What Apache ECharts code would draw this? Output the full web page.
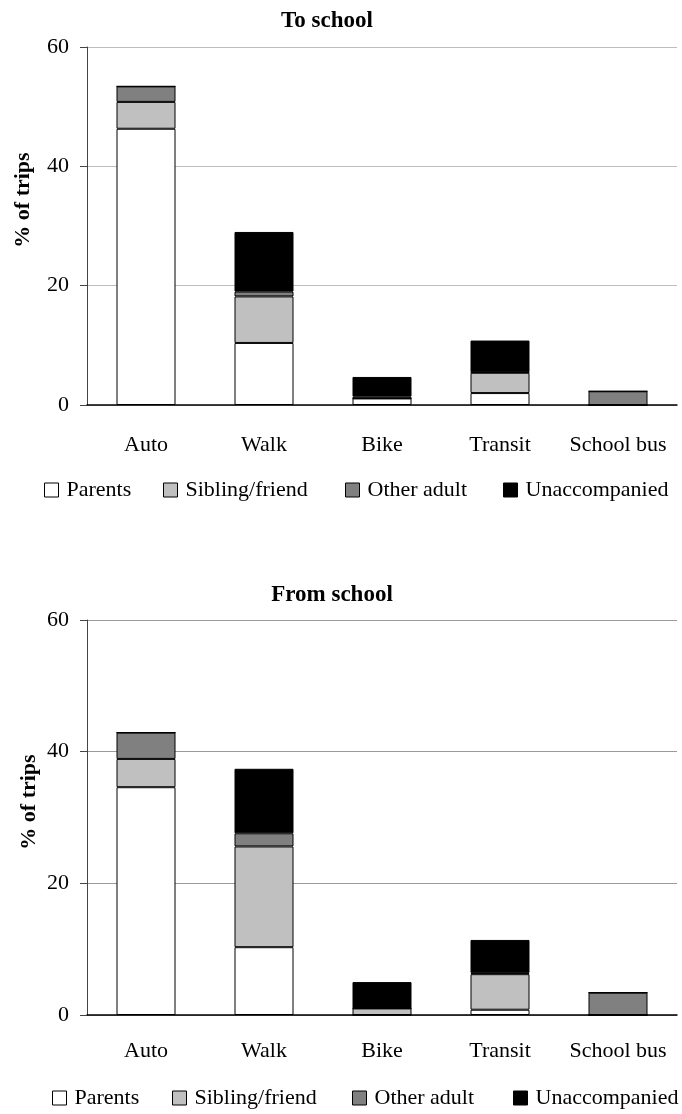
<!DOCTYPE html>
<html>
<head>
<meta charset="utf-8">
<script src="https://cdn.jsdelivr.net/npm/echarts@6/dist/echarts.min.js"></script>
<style>
html,body{margin:0;padding:0;background:#fff;}
#c{width:682px;height:1114px;}
</style>
</head>
<body>
<div id="c"></div>
<script>
// ---- data ----
var categories = ['Auto', 'Walk', 'Bike', 'Transit', 'School bus'];
var seriesNames = ['Parents', 'Sibling/friend', 'Other adult', 'Unaccompanied'];
var yTicks = [0, 20, 40, 60];

// To school (% of trips)
var toParents       = [46.3, 10.4, 1.1, 2.0, 0];
var toSibling       = [4.5,  7.8,  0,   3.4, 0];
var toOtherAdult    = [2.6,  0.8,  0.3, 0.1, 2.3];
var toUnaccompanied = [0,    10.0, 3.3, 5.3, 0];

// From school (% of trips)
var fromParents       = [34.6, 10.3, 0,   0.8, 0];
var fromSibling       = [4.3,  15.3, 1.0, 5.4, 0];
var fromOtherAdult    = [4.0,  2.0,  0,   0.2, 3.4];
var fromUnaccompanied = [0,    9.8,  4.0, 5.0, 0];

var colors = ['#ffffff', '#c0c0c0', '#808080', '#000000'];
var FONT = '"Liberation Serif", "DejaVu Serif", serif';

var chart = echarts.init(document.getElementById('c'), null, {renderer: 'canvas'});

function mkSeries(idx, arrs, stackName) {
  return arrs.map(function (d, i) {
    return {
      name: seriesNames[i],
      type: 'bar',
      stack: stackName,
      xAxisIndex: idx,
      yAxisIndex: idx,
      barWidth: 59,
      data: d,
      itemStyle: {color: colors[i], borderColor: '#000', borderWidth: 1},
      emphasis: {disabled: true},
      animation: false
    };
  });
}

function mkLegends(lefts, top) {
  return seriesNames.map(function (n, i) {
    return {
      data: [n],
      left: lefts[i],
      top: top,
      padding: 0,
      icon: 'rect',
      itemWidth: 14,
      itemHeight: 14,
      itemGap: 0,
      selectedMode: false,
      itemStyle: {borderColor: '#000', borderWidth: 1},
      textStyle: {fontFamily: FONT, fontSize: 22, color: '#000', padding: [0, 0, 0, 3]}
    };
  });
}

function mkX(idx, margin) {
  return {
    type: 'category',
    gridIndex: idx,
    data: categories,
    axisTick: {show: false},
    axisLine: {lineStyle: {color: '#000', width: 1.5}},
    axisLabel: {fontFamily: FONT, fontSize: 22, color: '#000', margin: margin, interval: 0, hideOverlap: false}
  };
}

function mkY(idx, splitColor) {
  return {
    type: 'value',
    gridIndex: idx,
    min: 0, max: 60, interval: 20,
    axisLine: {show: true, lineStyle: {color: '#444', width: 1}},
    axisTick: {show: true, length: 7, lineStyle: {color: '#444'}},
    splitLine: {show: true, lineStyle: {color: splitColor, width: 1}},
    axisLabel: {fontFamily: FONT, fontSize: 22, color: '#000', margin: 18,
      customValues: yTicks}
  };
}

var option = {
  backgroundColor: '#fff',
  animation: false,
  grid: [
    {left: 87, right: 5, top: 47, height: 358},
    {left: 87, right: 5, top: 620, height: 395}
  ],
  xAxis: [mkX(0, 29), mkX(1, 25)],
  yAxis: [mkY(0, '#bdbdbd'), mkY(1, '#9a9a9a')],
  legend: mkLegends([44, 163, 345, 503], 479).concat(mkLegends([52, 172, 352, 513], 1087)),
  series: mkSeries(0, [toParents, toSibling, toOtherAdult, toUnaccompanied], 'to')
    .concat(mkSeries(1, [fromParents, fromSibling, fromOtherAdult, fromUnaccompanied], 'from')),
  graphic: [
    {type: 'text', x: 327, y: 21, style: {text: 'To school', font: 'bold 23px ' + FONT, fill: '#000', align: 'center', verticalAlign: 'middle'}},
    {type: 'text', x: 332, y: 595, style: {text: 'From school', font: 'bold 23px ' + FONT, fill: '#000', align: 'center', verticalAlign: 'middle'}},
    {type: 'text', x: 23, y: 200, rotation: Math.PI / 2, style: {text: '% of trips', font: 'bold 22px ' + FONT, fill: '#000', align: 'center', verticalAlign: 'middle'}},
    {type: 'text', x: 29, y: 802, rotation: Math.PI / 2, style: {text: '% of trips', font: 'bold 22px ' + FONT, fill: '#000', align: 'center', verticalAlign: 'middle'}}
  ]
};
chart.setOption(option);
</script>
</body>
</html>
